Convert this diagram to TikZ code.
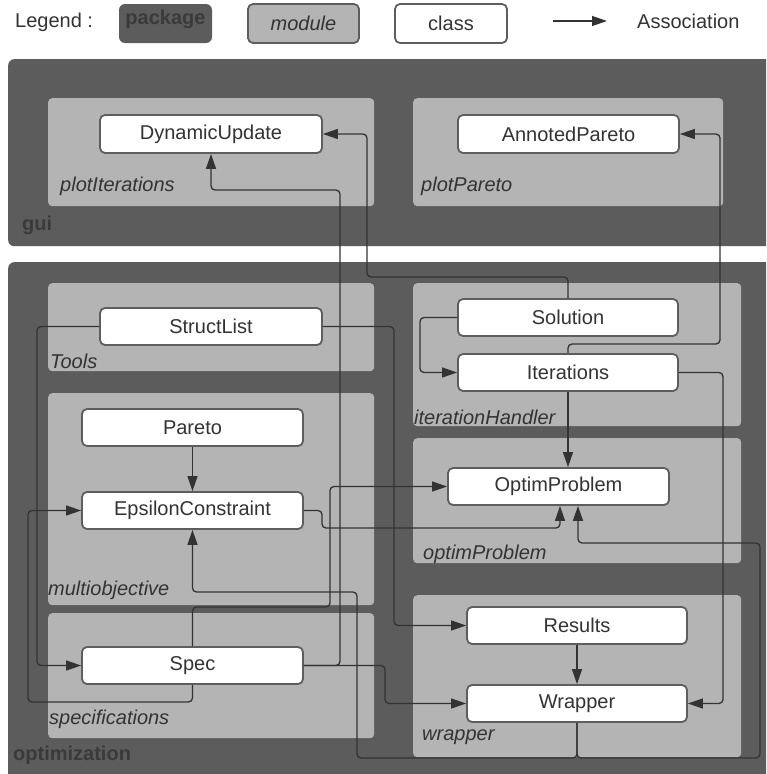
\documentclass[tikz,border=0pt]{standalone}
\usepackage{fontspec}
\setmainfont{Liberation Sans}
\usetikzlibrary{arrows.meta,calc}
\definecolor{pkg}{HTML}{5C5C5C}
\definecolor{mod}{HTML}{B4B4B4}
\definecolor{ink}{HTML}{333333}
\definecolor{clsborder}{HTML}{5E5E5E}
\definecolor{pkgtext}{HTML}{3A3A3A}
\begin{document}
\begin{tikzpicture}[x=1pt,y=-1pt,
  font=\fontsize{20}{23}\selectfont,
  pkgbox/.style={fill=pkg, rounded corners=6pt, inner sep=0pt, anchor=north west},
  modbox/.style={fill=mod, rounded corners=4pt, inner sep=0pt, anchor=north west},
  cls/.style={draw=clsborder, line width=1.8pt, fill=white, rounded corners=5pt, inner sep=0pt, text=ink},
  pkglabel/.style={font=\fontsize{20}{23}\selectfont\bfseries, text=pkgtext, anchor=west, inner sep=0pt},
  modlabel/.style={font=\fontsize{20}{23}\selectfont\itshape, text=ink, anchor=west, inner sep=0pt},
  assoc/.style={draw=ink, line width=1.3pt, rounded corners=4pt, -{Triangle[length=15pt,width=10pt]}},
  ]
\useasboundingbox (0,0) rectangle (766,774);
\clip (0,0) rectangle (766,774);
\fill[white] (0,0) rectangle (766,774);

% legend
\node[anchor=west, inner sep=0pt, text=ink] (legend) at (15,22) {Legend :};
\node[fill=pkg, rounded corners=6pt, minimum width=93pt, minimum height=39pt, inner sep=0pt] (lpkg) at (165.5,23.5) {};
\node[text=pkgtext, inner sep=0pt, font=\fontsize{20}{23}\selectfont\bfseries] (lpkgt) at (165.5,19) {package};
\node[fill=mod, draw=clsborder, line width=1.8pt, rounded corners=5pt, minimum width=111pt, minimum height=39pt, inner sep=0pt, text=ink, font=\fontsize{20}{23}\selectfont\itshape] (lmod) at (303.5,23.5) {module};
\node[cls, minimum width=112pt, minimum height=39pt] (lcls) at (451,23.5) {class};
\coordinate (la1) at (553,21);
\coordinate (la2) at (607,21);
\draw[assoc] (la1) -- (la2);
\node[anchor=west, inner sep=0pt, text=ink] (lassoc) at (637,21) {Association};

% packages
\node[pkgbox, minimum width=780pt, minimum height=187pt] (gui) at (8,59) {};
\node[pkgbox, minimum width=780pt, minimum height=525pt] (opt) at (8,262) {};
\node[pkglabel] (guit) at (22,225) {gui};
\node[pkglabel] (optt) at (13,755) {optimization};

% modules
\node[modbox, minimum width=326pt, minimum height=108pt] (mPI) at (48,98) {};
\node[modbox, minimum width=310pt, minimum height=108pt] (mPP) at (413,98) {};
\node[modbox, minimum width=326pt, minimum height=88pt] (mTo) at (48,283) {};
\node[modbox, minimum width=326pt, minimum height=212pt] (mMO) at (48,393) {};
\node[modbox, minimum width=326pt, minimum height=125pt] (mSp) at (48,613) {};
\node[modbox, minimum width=328pt, minimum height=143pt] (mIH) at (413,283) {};
\node[modbox, minimum width=328pt, minimum height=125pt] (mOP) at (413,438) {};
\node[modbox, minimum width=328pt, minimum height=162pt] (mWr) at (413,595) {};

\node[modlabel] (tPI) at (60,186) {plotIterations};
\node[modlabel] (tPP) at (421,186) {plotPareto};
\node[modlabel] (tTo) at (50,361) {Tools};
\node[modlabel] (tMO) at (48,590) {multiobjective};
\node[modlabel] (tSp) at (49,719) {specifications};
\node[modlabel] (tIH) at (414,417) {iterationHandler};
\node[modlabel] (tOP) at (423,554) {optimProblem};
\node[modlabel] (tWr) at (422,737) {wrapper};

% classes
\node[cls, minimum width=222pt, minimum height=38pt] (DU) at (211,134) {DynamicUpdate};
\node[cls, minimum width=221pt, minimum height=38pt] (AP) at (568.5,134) {AnnotedPareto};
\node[cls, minimum width=222pt, minimum height=37pt] (SL) at (211,326.5) {StructList};
\node[cls, minimum width=221pt, minimum height=37pt] (Pa) at (192.5,427.5) {Pareto};
\node[cls, minimum width=221pt, minimum height=37pt] (EC) at (192.5,510.5) {EpsilonConstraint};
\node[cls, minimum width=221pt, minimum height=37pt] (Spec) at (192.5,665.5) {Spec};
\node[cls, minimum width=220pt, minimum height=37pt] (Sol) at (568,317.5) {Solution};
\node[cls, minimum width=220pt, minimum height=37pt] (Iter) at (568,372.5) {Iterations};
\node[cls, minimum width=221pt, minimum height=37pt] (OP) at (558.5,486.5) {OptimProblem};
\node[cls, minimum width=220pt, minimum height=37pt] (Res) at (577,625.5) {Results};
\node[cls, minimum width=220pt, minimum height=37pt] (Wr) at (577,703.5) {Wrapper};

% associations
\draw[assoc] (Sol.north) -- (568,277) -- (367,277) -- (367,134) -- (DU.east);
\draw[assoc] (Spec.east) -- (340,665.5) -- (340,190) -- (211,190) -- (DU.south);
\draw[assoc] (Spec.east) -- (385,665.5) -- (385,703.5) -- (Wr.west);
\draw[assoc] (Wr.south) -- (577,758) -- (357,758) -- (357,592) -- (192.5,592) -- (EC.south);
\draw[assoc] (Wr.south) -- (577,758) -- (760,758) -- (760,543) -- (578,543) -- ([xshift=19.5pt]OP.south);
\draw[assoc] (EC.east) -- (322,510.5) -- (322,528) -- (560,528) -- ([xshift=1.5pt]OP.south);
\draw[assoc] (Spec.north) -- (192.5,607) -- (330,607) -- (330,486.5) -- (OP.west);
\draw[assoc] (Spec.south) -- (192.5,702) -- (28,702) -- (28,510.5) -- (EC.west);
\draw[assoc] (SL.west) -- (37,326.5) -- (37,665.5) -- (Spec.west);
\draw[assoc] (SL.east) -- (394,326.5) -- (394,625.5) -- (Res.west);
\draw[assoc] (Sol.west) -- (420,317.5) -- (420,372.5) -- (Iter.west);
\draw[assoc] (Iter.south) -- (Iter.south |- OP.north);
\draw[assoc] (Iter.north) -- (568,344) -- (720,344) -- (720,134) -- (AP.east);
\draw[assoc] (Iter.east) -- (723,372.5) -- (723,703.5) -- (Wr.east);
\draw[assoc] (Res.south) -- (Wr.north);
\draw[assoc] (Pa.south) -- (EC.north);
\end{tikzpicture}
\end{document}
